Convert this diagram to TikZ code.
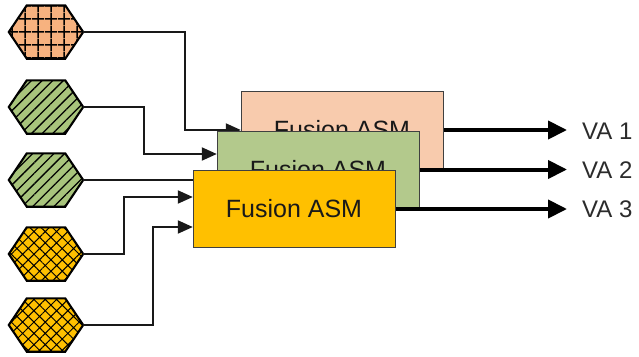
\documentclass[tikz,border=0pt]{standalone}
\usepackage{fontspec}
\setmainfont{Liberation Sans}
\usetikzlibrary{arrows.meta,patterns.meta}
\definecolor{hexorange}{HTML}{F7B27F}
\definecolor{hexgreen}{HTML}{A8C47C}
\definecolor{hexyellow}{HTML}{FFC000}
\definecolor{boxpeach}{HTML}{F8CBAD}
\definecolor{boxgreen}{HTML}{B3C98C}
\definecolor{boxyellow}{HTML}{FFC000}
\definecolor{boxborder}{HTML}{404040}
\definecolor{labelgray}{HTML}{2B2B2B}
\tikzset{
  hexbox/.style={inner sep=0pt, minimum width=74pt, minimum height=53pt},
  hexline/.style={draw=black, line width=2.1pt, line join=miter},
  hexgrid/.style={hexline, preaction={fill=hexorange}, pattern color=black,
    pattern={Hatch[angle=0,distance=13pt,line width=1.7pt]}},
  hexstripe/.style={hexline, preaction={fill=hexgreen}, pattern color=black,
    pattern={Lines[angle=45,distance=7.5pt,line width=1.3pt]}},
  hexcross/.style={hexline, preaction={fill=hexyellow}, pattern color=black,
    pattern={Hatch[angle=45,distance=8pt,line width=1pt]}},
  slot/.style={inner sep=0pt, minimum width=202pt, minimum height=77pt},
  asmbox/.style={slot, draw=boxborder, line width=1pt, text=black!90,
    font=\fontsize{25}{29}\selectfont},
  conn/.style={draw=black!90, line width=2pt, -{Triangle[length=15pt,width=13pt]}},
  outconn/.style={draw=black, line width=4pt, -{Triangle[length=19pt,width=18pt]}},
  valabel/.style={anchor=west, inner sep=0pt, text=labelgray,
    font=\fontsize{24}{28}\selectfont}
}
\newcommand{\hexagonnode}[4]{%
  \node[hexbox] (#1) at (#2,#3) {};
  \path[#4] (#1.west) -- ([xshift=18pt]#1.north west) -- ([xshift=-18pt]#1.north east)
    -- (#1.east) -- ([xshift=-18pt]#1.south east) -- ([xshift=18pt]#1.south west) -- cycle;
}
\begin{document}
\begin{tikzpicture}[x=1pt,y=-1pt]
\useasboundingbox (0,0) rectangle (639,356);
% hexagons
\hexagonnode{h1}{46}{32}{hexgrid}
\hexagonnode{h2}{46}{107}{hexstripe}
\hexagonnode{h3}{46}{180}{hexstripe}
\hexagonnode{h4}{46}{254}{hexcross}
\hexagonnode{h5}{46}{325}{hexcross}
% box slots (positions) for connectors
\node[slot] (b1) at (342,130) {};
\node[slot] (b2) at (318,169.5) {};
\node[slot] (b3) at (294,209) {};
% input connectors
\draw[conn] (h1.east) -- ++(102,0) |- (b1.west);
\draw[conn] (h2.east) -- ++(61,0) |- ([yshift=15.5pt]b2.west);
\draw[conn] (h3.east) -- (h3.east -| b2.west);
\draw[conn] (h4.east) -- ++(41,0) |- ([yshift=12pt]b3.west);
\draw[conn] (h5.east) -- ++(70,0) |- ([yshift=-18pt]b3.west);
% boxes
\node[asmbox, fill=boxpeach] (f1) at (b1) {Fusion ASM};
\node[asmbox, fill=boxgreen] (f2) at (b2) {Fusion ASM};
\node[asmbox, fill=boxyellow] (f3) at (b3) {Fusion ASM};
% outputs
\coordinate (o1) at (567,130);
\coordinate (o2) at (567,169.5);
\coordinate (o3) at (567,209);
\draw[outconn] (f1.east) -- (o1);
\draw[outconn] (f2.east) -- (o2);
\draw[outconn] (f3.east) -- (o3);
\node[valabel] (v1) at (582,131) {VA 1};
\node[valabel] (v2) at (582,170) {VA 2};
\node[valabel] (v3) at (582,209) {VA 3};
\end{tikzpicture}
\end{document}
